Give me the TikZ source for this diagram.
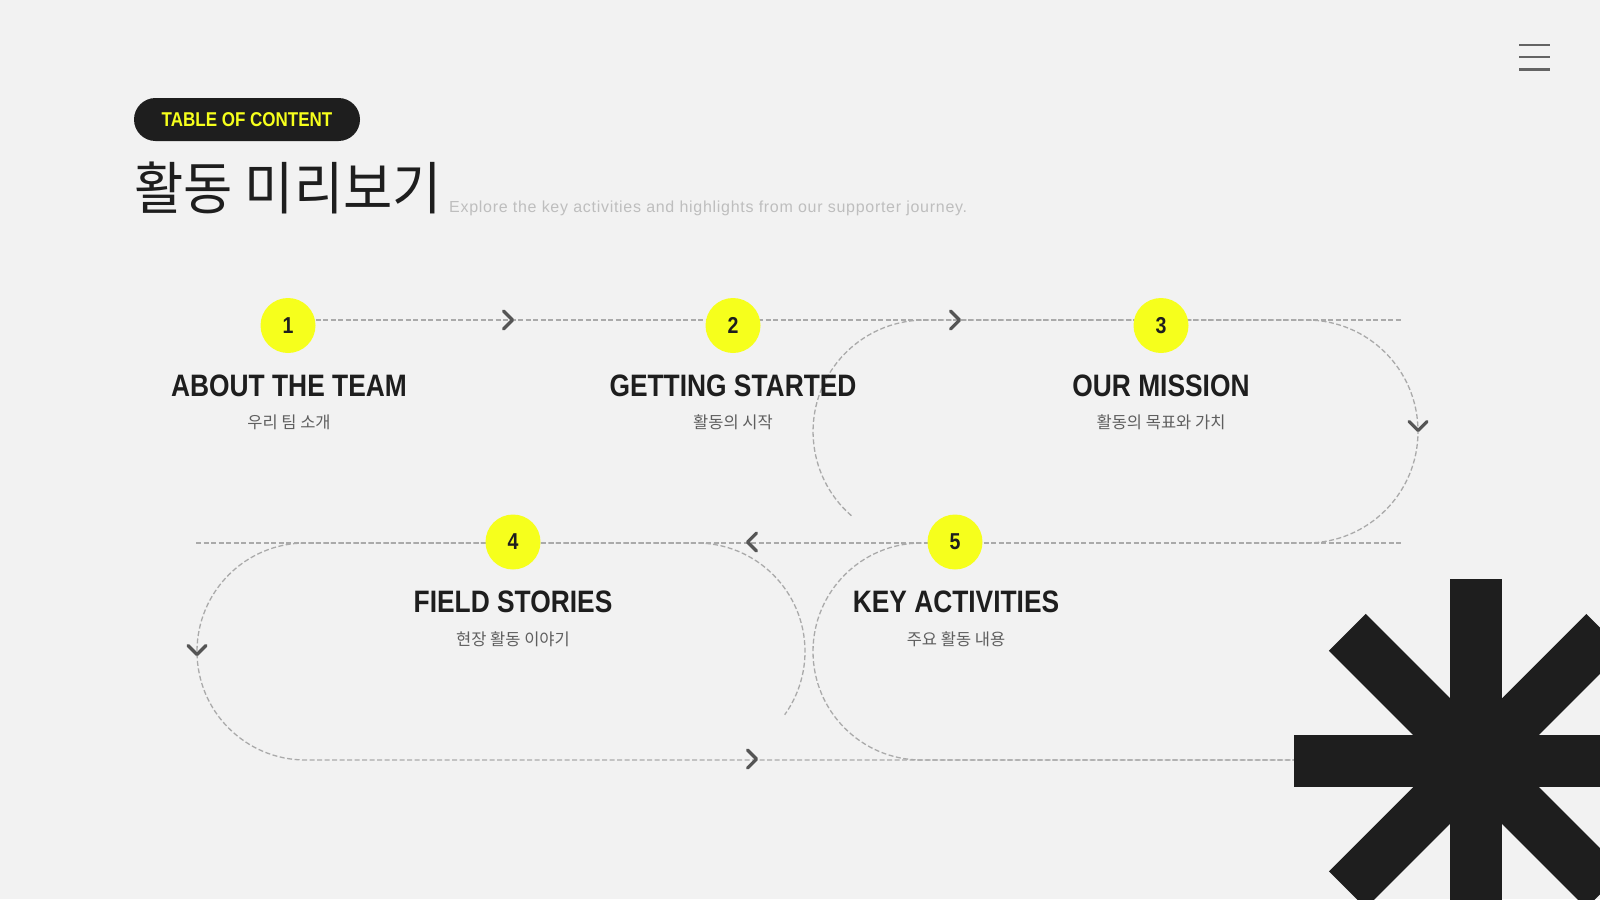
\documentclass[tikz,border=0pt]{standalone}
\usepackage{fontspec}
\usepackage{xcolor}
\usetikzlibrary{positioning,calc}
\setmainfont{Liberation Sans}
\newfontfamily\krfont{Noto Sans CJK KR}
\newfontfamily\krtitlefont[FakeStretch=0.94]{Noto Sans CJK KR}
\newfontfamily\headfont[FakeStretch=0.85]{Liberation Sans}
\newfontfamily\leadfont[LetterSpace=4.5]{Liberation Sans}
\definecolor{BgGray}{RGB}{242,242,242}
\definecolor{InkBlack}{RGB}{30,30,30}
\definecolor{MarkYellow}{RGB}{246,255,28}
\definecolor{PathGray}{RGB}{170,170,170}
\definecolor{ArrowGray}{RGB}{85,85,85}
\definecolor{SubGray}{RGB}{95,95,95}
\definecolor{LeadGray}{RGB}{190,190,190}
\definecolor{MenuGray}{RGB}{100,100,100}
\tikzset{
  numdot/.style={circle,fill=MarkYellow,minimum size=55pt,inner sep=0pt,
    font=\headfont\bfseries\fontsize{23}{23}\selectfont,text=InkBlack},
  stephead/.style={inner sep=0pt,font=\headfont\bfseries\fontsize{31}{31}\selectfont,text=InkBlack},
  stepsub/.style={inner sep=0pt,font=\krfont\fontsize{16.5}{16.5}\selectfont,text=SubGray},
  trail/.style={PathGray,line width=1.3pt,dash pattern=on 5pt off 2.5pt},
  chev/.style={ArrowGray,line width=3.2pt,line cap=round,line join=round},
}

\begin{document}
\begin{tikzpicture}[x=1pt,y=-1pt]
\useasboundingbox (0,0) rectangle (1600,899);
\fill[BgGray] (0,0) rectangle (1600,899);
% header
\node[fill=InkBlack,text=MarkYellow,rounded corners=21.5pt,minimum width=226pt,minimum height=43pt,
  font=\headfont\bfseries\fontsize{20}{20}\selectfont] (badge) at (247,119.5) {TABLE OF CONTENT};
\node[anchor=base west,inner sep=0pt,text=InkBlack,font=\krtitlefont\fontsize{57}{57}\selectfont]
  (title) at (134,209) {활동 미리보기};
\node[anchor=base west,inner sep=0pt,text=LeadGray,font=\leadfont\fontsize{16}{16}\selectfont]
  (lead) at (449,212) {Explore the key activities and highlights from our supporter journey.};
\foreach \y in {45.5,57.5,69.5}
  \draw[MenuGray,line width=2pt] (1519,\y) -- (1550,\y);
% trail points
\coordinate (r1s) at (315.5,320);
\coordinate (r1e) at (1401,320);
\coordinate (r2s) at (196,543);
\coordinate (r2e) at (1401,543);
\coordinate (loopA) at (851.4,515.7);
\coordinate (loopB) at (305.5,760);
\coordinate (loopC) at (921.5,543);
\coordinate (tail) at (1297,760);
% dashed trail
\draw[trail] (r1s) -- (r1e);
\draw[trail] (r2s) -- (r2e);
\draw[trail] (loopA) arc[start angle=131,end angle=270,radius=111.5]
  -- (1306.5,320) arc[start angle=270,end angle=450,radius=111.5] -- (1250,543);
\draw[trail] (tail) -- (loopB) arc[start angle=90,end angle=270,radius=108.5]
  -- (696.5,543) arc[start angle=270,end angle=395.6,radius=108.5];
\draw[trail] (loopC) arc[start angle=270,end angle=90,radius=108.5] -- (tail);
% step markers
\node[numdot] (n1) at (288,325.5) {1};
\node[numdot] (n2) at (733,325.5) {2};
\node[numdot] (n3) at (1161,325.5) {3};
\node[numdot] (n4) at (513,542) {4};
\node[numdot] (n5) at (955,542) {5};
% chevrons
\draw[chev] (508,320) ++(-4.5,-9) -- ++(9,9) -- ++(-9,9);
\draw[chev] (955,320) ++(-4.5,-9) -- ++(9,9) -- ++(-9,9);
\draw[chev] (1418,426) ++(-9,-4.5) -- ++(9,9) -- ++(9,-9);
\draw[chev] (752,542) ++(4.5,-9) -- ++(-9,9) -- ++(9,9);
\draw[chev] (197,650) ++(-9,-4.5) -- ++(9,9) -- ++(9,-9);
\draw[chev] (752,759) ++(-4.5,-9) -- ++(9,9) -- ++(-9,9);
% labels
\node[stephead] (h1) at (289,386) {ABOUT THE TEAM};
\node[stepsub] (s1) at (289,422) {우리 팀 소개};
\node[stephead] (h2) at (733,386) {GETTING STARTED};
\node[stepsub] (s2) at (733,422) {활동의 시작};
\node[stephead] (h3) at (1161,386) {OUR MISSION};
\node[stepsub] (s3) at (1161,422) {활동의 목표와 가치};
\node[stephead] (h4) at (513,602) {FIELD STORIES};
\node[stepsub] (s4) at (513,639.5) {현장 활동 이야기};
\node[stephead] (h5) at (956,602) {KEY ACTIVITIES};
\node[stepsub] (s5) at (956,639.5) {주요 활동 내용};
% asterisk
\begin{scope}
\clip (0,0) rectangle (1600,899);
\foreach \a in {0,45,90,135}
  \fill[InkBlack,rotate around={\a:(1476,761)}] (1294,735) rectangle (1658,787);
\end{scope}
\end{tikzpicture}
\end{document}
